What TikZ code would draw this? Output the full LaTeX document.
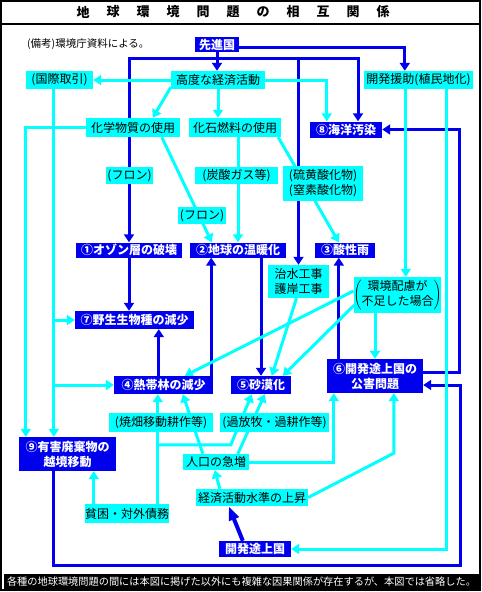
\documentclass[tikz,border=0pt]{standalone}
\usepackage{fontspec}
\setmainfont{Noto Sans CJK JP}
\usetikzlibrary{arrows.meta,calc,backgrounds}
\definecolor{db}{RGB}{0,0,238}
\definecolor{cy}{RGB}{0,255,255}
\tikzset{
  bnode/.style={fill=db,text=white,font=\bfseries\fontsize{12}{15}\selectfont,inner sep=0pt,align=center},
  cnode/.style={fill=cy,text=black,font=\fontsize{12}{15}\selectfont,inner sep=0pt,align=center},
  bl/.style={draw=db,line width=3pt},
  cl/.style={draw=cy,line width=3pt},
  arr/.style={-{Triangle[width=10pt,length=8pt]}},
}
\begin{document}
\begin{tikzpicture}[x=1pt,y=-1pt]
\useasboundingbox (0,0) rectangle (482,592);
% frame
\draw[line width=2pt] (1,1) rectangle (480,590);
\draw[line width=1.5pt] (1,24) -- (480,24);
\foreach \c [count=\i from 0] in {地,球,環,境,問,題,の,相,互,関,係}
  \node[font=\bfseries\fontsize{13}{13}\selectfont,inner sep=0pt] (t\i) at (83+30*\i,12) {\c};
\node[anchor=west,font=\fontsize{10.5}{12}\selectfont,inner sep=0pt] (note) at (27,44) {(備考)環境庁資料による。};
\node[fill=black,text=white,font=\fontsize{10.2}{12}\selectfont,minimum width=475pt,minimum height=15pt,inner sep=0pt] (cap) at (241.5,581.5) {各種の地球環境問題の間には本図に掲げた以外にも複雑な因果関係が存在するが、本図では省略した。};
% blue nodes
\node[bnode,minimum width=44pt,minimum height=15pt] (senshin) at (217,44.5) {先進国};
\node[bnode,minimum width=72pt,minimum height=16pt] (kaiyo) at (346,129.5) {⑧海洋汚染};
\node[bnode,minimum width=106pt,minimum height=15pt] (ozone) at (129,250) {①オゾン層の破壊};
\node[bnode,minimum width=96pt,minimum height=15pt] (ondan) at (238,250) {②地球の温暖化};
\node[bnode,minimum width=60pt,minimum height=15pt] (sansei) at (345,250) {③酸性雨};
\node[bnode,minimum width=119pt,minimum height=18pt] (yasei) at (134.5,320) {⑦野生生物種の減少};
\node[bnode,minimum width=99pt,minimum height=18pt] (nettai) at (163.5,385) {④熱帯林の減少};
\node[bnode,minimum width=60pt,minimum height=18pt] (sabaku) at (261,385) {⑤砂漠化};
\node[bnode,minimum width=96pt,minimum height=34pt] (kougai) at (375,376) {⑥開発途上国の\\公害問題};
\node[bnode,minimum width=97pt,minimum height=34pt] (yugai) at (67.5,454) {⑨有害廃棄物の\\越境移動};
\node[bnode,minimum width=72pt,minimum height=16pt] (hatten) at (255,549) {開発途上国};
% cyan nodes
\node[cnode,minimum width=94pt,minimum height=18pt] (keizai) at (218,80) {高度な経済活動};
\node[cnode,minimum width=67pt,minimum height=18pt] (kokusai) at (59.5,80) {(国際取引)};
\node[cnode,minimum width=109pt,minimum height=18pt] (enjo) at (418.5,80) {開発援助(植民地化)};
\node[cnode,minimum width=94pt,minimum height=19pt] (kagaku) at (133,127.5) {化学物質の使用};
\node[cnode,minimum width=92pt,minimum height=19pt] (sekiyu) at (235,127.5) {化石燃料の使用};
\node[cnode,minimum width=47pt,minimum height=17pt] (freon1) at (129.5,175.5) {(フロン)};
\node[cnode,minimum width=83pt,minimum height=17pt] (tansan) at (236.5,175.5) {(炭酸ガス等)};
\node[cnode,minimum width=80pt,minimum height=35pt] (iou) at (323,183.5) {(硫黄酸化物)\\(窒素酸化物)};
\node[cnode,minimum width=48pt,minimum height=17pt] (freon2) at (202,215.5) {(フロン)};
\node[cnode,minimum width=61pt,minimum height=33pt] (chisui) at (298.5,281.5) {治水工事\\護岸工事};
\node[cnode,minimum width=83pt,minimum height=36pt] (kankyo) at (397.5,295) {$\left(\begin{tabular}{@{}c@{}}環境配慮が\\不足した場合\end{tabular}\right)$};
\node[cnode,minimum width=104pt,minimum height=19pt] (yakihata) at (161,422.5) {(焼畑移動耕作等)};
\node[cnode,minimum width=109pt,minimum height=19pt] (kahoboku) at (274.5,422.5) {(過放牧・過耕作等)};
\node[cnode,minimum width=66pt,minimum height=16pt] (jinko) at (216,462) {人口の急増};
\node[cnode,minimum width=112pt,minimum height=17pt] (suijun) at (252,497.5) {経済活動水準の上昇};
\node[cnode,minimum width=82pt,minimum height=19pt] (hinkon) at (127,513.5) {貧困・対外債務};
% connectors
\begin{scope}[on background layer]
\fill[white] (0,0) rectangle (482,592);
% blue
\coordinate (j1) at ($(senshin.south)+(0,6)$);
\draw[bl,arr] (senshin.south) -- (senshin.south |- keizai.north);
\draw[bl,arr] (j1) -| (ozone.north);
\draw[bl,arr] (j1) -| ($(kaiyo.north)+(12,0)$);
\draw[bl,arr] (j1) -| (chisui.north);
\draw[bl,arr] ($(senshin.east)+(0,2.5)$) -| ($(enjo.north west)+(41,0)$);
\draw[bl,arr] (ozone.south) -- (ozone.south |- yasei.north);
\coordinate (n1) at ($(nettai.north west)+(45,0)$);
\draw[bl,arr] (n1) -- (n1 |- yasei.south);
\coordinate (n2) at ($(nettai.north east)+(-2,0)$);
\draw[bl,arr] (n2) -- (n2 |- ondan.south);
\draw[bl,arr] (sabaku.north |- ondan.south) -- (sabaku.north);
\coordinate (k1) at ($(kougai.north west)+(12,0)$);
\draw[bl,arr] (k1) -- (k1 |- sansei.south);
\draw[bl,arr] ($(kougai.east)+(0,-4)$) -- ++(36,0) |- (kaiyo.east);
\draw[bl,arr] ($(yugai.south west)+(35,0)$) -- ++(0,94) -| ($(kougai.east)+(37,9)$) -- ($(kougai.east)+(0,9)$);
\draw[db,line width=4pt,-{Triangle[width=10pt,length=14pt]}] ($(hatten.north west)+(24,0)$) -- ($(suijun.south west)+(33,0)$);
% cyan
\draw[cl,arr] (keizai.west) -- (kokusai.east);
\draw[cl,arr] (keizai.east) -| ($(kaiyo.north west)+(17,0)$);
\draw[cl,arr] ($(keizai.south west)+(0,-2)$) -- ($(kagaku.north west)+(67,0)$);
\draw[cl,arr] (keizai.south) -- (keizai.south |- sekiyu.north);
\coordinate (c54) at ($(kokusai.south west)+(28,0)$);
\draw[cl,arr] (c54) -- (c54 |- yugai.north);
\draw[cl,arr] (c54 |- yasei.west) -- (yasei.west);
\draw[cl,arr] (c54 |- nettai.west) -- (nettai.west);
\draw[cl,arr] (kagaku.west) -| ($(yugai.north west)+(7,0)$);
\draw[cl,arr] ($(kagaku.south west)+(76,0)$) -- ($(ondan.north west)+(22,0)$);
\draw[cl,arr] (ondan.north |- sekiyu.south) -- (ondan.north);
\draw[cl,arr] ($(sekiyu.south east)+(-3,0)$) -- ($(sansei.north west)+(24,0)$);
\coordinate (e1) at ($(enjo.south west)+(42,0)$);
\draw[cl,arr] (e1) -- (e1 |- kankyo.north);
\draw[cl,arr] ($(enjo.south west)+(83,0)$) |- (hatten.east);
\draw[cl,arr] ($(chisui.south)+(-2,0)$) -- ($(sabaku.north west)+(41,0)$);
\draw[cl,arr] ($(kankyo.west)+(0,-4)$) -- ($(nettai.north west)+(71,0)$);
\draw[cl,arr] ($(kankyo.west)+(1,10)$) -- ($(sabaku.north west)+(52,0)$);
\draw[cl,arr] (kougai.north |- kankyo.south) -- (kougai.north);
\coordinate (h1) at ($(hinkon.north west)+(73,0)$);
\coordinate (h2) at ($(h1)+(0,-59)$);
\coordinate (h3) at ($(h2)+(73,0)$);
\draw[cl,arr] (h1) -- (h1 |- nettai.south);
\draw[cl,arr] (h2) -- (h3) -- ($(sabaku.south west)+(21,0)$);
\coordinate (hk) at ($(hinkon.north west)+(9,0)$);
\draw[cl,arr] (hk) -- (hk |- yugai.south);
\draw[cl,arr] ($(jinko.north west)+(20,0)$) -- ($(nettai.south west)+(69,0)$);
\draw[cl,arr] ($(jinko.north west)+(55,0)$) -- ($(sabaku.south west)+(34,0)$);
\draw[cl,arr] (jinko.east) -| ($(kougai.south west)+(7,0)$);
\draw[cl,arr] ($(suijun.north west)+(24,0)$) -- ($(jinko.south west)+(32,0)$);
\draw[cl,arr] (suijun.east) -- ($(kougai.south west)+(67,60)$) -- ($(kougai.south west)+(67,0)$);
\end{scope}
\end{tikzpicture}
\end{document}
